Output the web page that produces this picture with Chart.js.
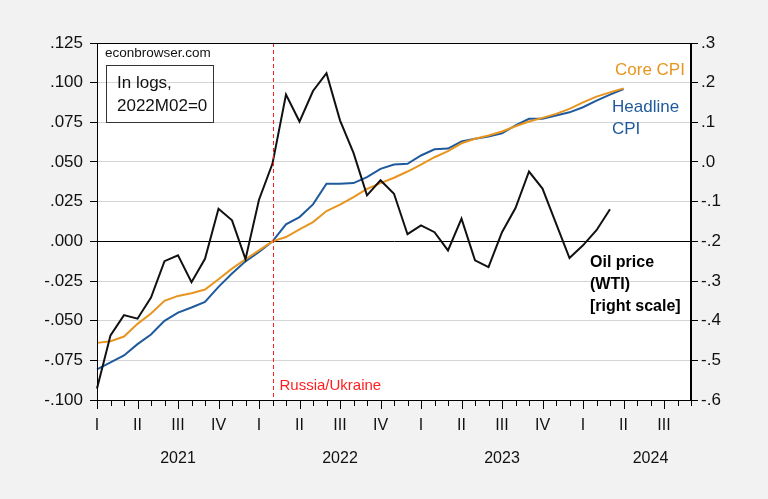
<!DOCTYPE html>
<html>
<head>
<meta charset="utf-8">
<script src="https://cdn.jsdelivr.net/npm/chart.js@4.4.1/dist/chart.umd.min.js"></script>
<style>
  html, body { margin: 0; padding: 0; background: #f2f2f2; }
  #wrap { width: 768px; height: 499px; }
</style>
</head>
<body>
<div id="wrap"><canvas id="chart" width="768" height="499"></canvas></div>
<script>
// monthly categories, 2021M01 .. 2024M09
var months = [
  '2021M01','2021M02','2021M03','2021M04','2021M05','2021M06','2021M07','2021M08','2021M09','2021M10','2021M11','2021M12',
  '2022M01','2022M02','2022M03','2022M04','2022M05','2022M06','2022M07','2022M08','2022M09','2022M10','2022M11','2022M12',
  '2023M01','2023M02','2023M03','2023M04','2023M05','2023M06','2023M07','2023M08','2023M09','2023M10','2023M11','2023M12',
  '2024M01','2024M02','2024M03','2024M04','2024M05','2024M06','2024M07','2024M08','2024M09'
];

// log levels, 2022M02 = 0 (left scale)
var coreCPI = [
  -0.0640, -0.0630, -0.0600, -0.0520, -0.0455, -0.0375, -0.0344, -0.0327, -0.0304, -0.0239, -0.0172, -0.0113,
  -0.0057, 0.0000, 0.0027, 0.0075, 0.0121, 0.0191, 0.0231, 0.0279, 0.0331, 0.0367, 0.0401, 0.0440,
  0.0483, 0.0530, 0.0568, 0.0618, 0.0646, 0.0667, 0.0692, 0.0725, 0.0755, 0.0778, 0.0803, 0.0835,
  0.0876, 0.0912, 0.0939, 0.0964, null, null, null, null, null
];
var headlineCPI = [
  -0.0807, -0.0763, -0.0719, -0.0648, -0.0587, -0.0501, -0.0449, -0.0417, -0.0382, -0.0287, -0.0203, -0.0126,
  -0.0067, 0.0000, 0.0107, 0.0153, 0.0233, 0.0363, 0.0363, 0.0367, 0.0405, 0.0457, 0.0484, 0.0489,
  0.0541, 0.0580, 0.0585, 0.0629, 0.0646, 0.0660, 0.0681, 0.0730, 0.0772, 0.0772, 0.0793, 0.0813,
  0.0845, 0.0887, 0.0925, 0.0960, null, null, null, null, null
];
// oil price WTI (right scale)
var oilWTI = [
  -0.571, -0.437, -0.386, -0.395, -0.342, -0.250, -0.235, -0.303, -0.244, -0.118, -0.147, -0.245,
  -0.095, -0.004, 0.170, 0.102, 0.179, 0.224, 0.105, 0.023, -0.084, -0.046, -0.080, -0.182,
  -0.160, -0.177, -0.223, -0.143, -0.248, -0.265, -0.177, -0.116, -0.024, -0.067, -0.155, -0.242,
  -0.210, -0.172, -0.119, null, null, null, null, null, null
];

var quarterNames = ['I', 'II', 'III', 'IV'];
var yearLabels = { '2021M07': '2021', '2022M07': '2022', '2023M07': '2023', '2024M06': '2024' };
var warStart = '2022M02';

var orange = '#e8951f';
var blue = '#1f5a9c';
var red = 'rgb(255,30,30)';

function fmtLeft(v) {
  if (Math.abs(v) < 1e-9) v = 0;
  return v.toFixed(3).replace('0.', '.');
}
function fmtRight(v) {
  if (Math.abs(v) < 1e-9) v = 0;
  return v.toFixed(1).replace('0.', '.');
}

var frame = {
  id: 'frame',
  beforeDraw: function(chart) {
    var c = chart.ctx, a = chart.chartArea;
    c.save();
    c.fillStyle = '#f2f2f2';
    c.fillRect(0, 0, chart.width, chart.height);
    c.fillStyle = '#ffffff';
    c.fillRect(a.left, a.top, a.right - a.left, a.bottom - a.top);
    c.restore();
  },
  afterDatasetsDraw: function(chart) {
    var c = chart.ctx, a = chart.chartArea;
    var x = Math.round(chart.scales.x.getPixelForValue(months.indexOf(warStart))) + 0.5;
    c.save();
    c.globalAlpha = 1;
    c.strokeStyle = red;
    c.lineWidth = 1;
    c.setLineDash([4, 3]);
    c.beginPath();
    c.moveTo(x, a.top);
    c.lineTo(x, a.bottom);
    c.stroke();
    c.setLineDash([]);
    c.fillStyle = red;
    c.font = '15px "Liberation Sans", Arial, sans-serif';
    c.textBaseline = 'middle';
    c.textAlign = 'left';
    c.fillText('Russia/Ukraine', x + 6, 386);
    c.restore();
  },
  afterDraw: function(chart) {
    var c = chart.ctx, a = chart.chartArea, xs = chart.scales.x;
    c.save();
    // plot frame
    c.strokeStyle = '#000';
    c.lineWidth = 1;
    c.setLineDash([]);
    c.strokeRect(a.left + 0.5, a.top + 0.5, a.right - a.left - 1, a.bottom - a.top);
    // monthly ticks, longer at quarters
    c.beginPath();
    for (var i = 0; i < months.length; i++) {
      var m = +months[i].slice(5);
      var x = Math.round(xs.getPixelForValue(i)) + 0.5;
      var len = (m - 1) % 3 === 0 ? 9 : 6;
      c.moveTo(x, a.bottom);
      c.lineTo(x, a.bottom + len);
    }
    c.stroke();

    c.textBaseline = 'middle';
    c.textAlign = 'left';
    c.fillStyle = '#111';
    c.font = '13.5px "Liberation Sans", Arial, sans-serif';
    c.fillText('econbrowser.com', 105, 53);

    c.strokeStyle = '#333';
    c.strokeRect(106.5, 65.5, 107, 57);
    c.font = '17px "Liberation Sans", Arial, sans-serif';
    c.fillText('In logs,', 117, 83);
    c.fillText('2022M02=0', 117, 106);

    c.fillStyle = orange;
    c.fillText('Core CPI', 615, 70);
    c.fillStyle = blue;
    c.fillText('Headline', 612, 107);
    c.fillText('CPI', 612, 129);

    c.fillStyle = '#000';
    c.font = 'bold 16px "Liberation Sans", Arial, sans-serif';
    c.fillText('Oil price', 590, 263);
    c.fillText('(WTI)', 590, 285);
    c.fillText('[right scale]', 590, 307);
    c.restore();
  }
};

var ctx = document.getElementById('chart');

var chart = new Chart(ctx, {
  type: 'line',
  data: {
    labels: months,
    datasets: [
      {
        label: 'Oil price (WTI)',
        data: oilWTI,
        yAxisID: 'y1',
        borderColor: '#111111',
        borderWidth: 2,
        pointRadius: 0,
        tension: 0,
        fill: false
      },
      {
        label: 'Core CPI',
        data: coreCPI,
        yAxisID: 'y',
        borderColor: orange,
        borderWidth: 2,
        pointRadius: 0,
        tension: 0,
        fill: false
      },
      {
        label: 'Headline CPI',
        data: headlineCPI,
        yAxisID: 'y',
        borderColor: blue,
        borderWidth: 2,
        pointRadius: 0,
        tension: 0,
        fill: false
      }
    ]
  },
  options: {
    responsive: false,
    animation: false,
    devicePixelRatio: 1,
    layout: { padding: { top: 43, left: 0, right: 0, bottom: 0 } },
    plugins: {
      legend: { display: false },
      tooltip: { enabled: false }
    },
    scales: {
      x: {
        type: 'category',
        offset: false,
        afterFit: function(s) { s.height = 99; },
        grid: {
          display: true,
          drawOnChartArea: false,
          tickLength: 9,
          tickColor: 'rgba(0,0,0,0)'
        },
        border: { display: true, color: '#000' },
        ticks: {
          autoSkip: false,
          maxRotation: 0,
          padding: 0,
          color: '#111',
          font: { family: '"Liberation Sans", Arial, sans-serif', size: 16, lineHeight: '33px' },
          callback: function(value, index) {
            var m = +months[index].slice(5);
            var q = (m - 1) % 3 === 0 ? quarterNames[(m - 1) / 3] : '';
            var yr = yearLabels[months[index]];
            return yr ? [q, yr] : q;
          }
        }
      },
      y: {
        position: 'left',
        min: -0.1,
        max: 0.125,
        afterFit: function(s) { s.width = 97; },
        grid: {
          color: function(c) { return (c.tick && Math.abs(c.tick.value) < 1e-9) ? '#000' : '#d4d4d4'; },
          tickColor: '#000',
          tickLength: 7
        },
        border: { display: true, color: '#000' },
        ticks: {
          stepSize: 0.025,
          padding: 7,
          color: '#111',
          font: { family: '"Liberation Sans", Arial, sans-serif', size: 17 },
          callback: function(v) { return fmtLeft(v); }
        }
      },
      y1: {
        position: 'right',
        min: -0.6,
        max: 0.3,
        afterFit: function(s) { s.width = 77; },
        grid: {
          drawOnChartArea: false,
          tickColor: '#000',
          tickLength: 7
        },
        border: { display: true, color: '#000' },
        ticks: {
          stepSize: 0.1,
          padding: 3,
          color: '#111',
          font: { family: '"Liberation Sans", Arial, sans-serif', size: 17 },
          callback: function(v) { return fmtRight(v); }
        }
      }
    }
  },
  plugins: [frame]
});
</script>
</body>
</html>
